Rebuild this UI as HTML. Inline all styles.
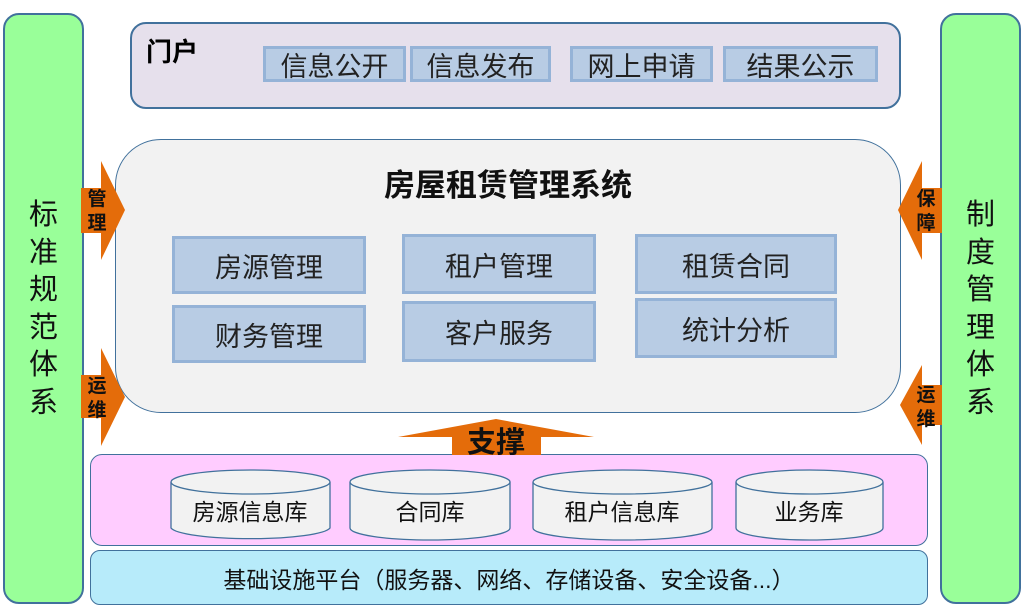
<!DOCTYPE html>
<html><head><meta charset="utf-8"><style>
body{margin:0;width:1024px;height:610px;background:#fff;position:relative;overflow:hidden;font-family:"Liberation Sans","Noto Sans CJK SC",sans-serif}
div{position:absolute;box-sizing:border-box}
.g{background:#99ff99;border:2px solid #41719c;border-radius:16px;}
.vt{font-size:29px;line-height:37.5px;text-align:center;color:#111}
.b{background:#b8cce4;border:3px solid #95b3d7;display:flex;align-items:center;justify-content:center;color:#222}
.pb{font-size:27px}
.m{font-size:27px}
</style></head><body>
<div style="left:3px;top:13px;width:81px;height:591px" class="g"></div>
<div class="vt" style="left:3px;top:197px;width:81px">标<br>准<br>规<br>范<br>体<br>系</div>
<div style="left:940px;top:13px;width:81px;height:591px" class="g"></div>
<div class="vt" style="left:940px;top:197px;width:81px">制<br>度<br>管<br>理<br>体<br>系</div>

<div style="left:130px;top:22px;width:771px;height:87px;background:#e6e0ec;border:2px solid #41719c;border-radius:16px"></div>
<div style="left:146px;top:32px;font-size:26px;font-weight:bold">门户</div>
<div class="b pb" style="left:263px;top:46px;width:143px;height:36px">信息公开</div>
<div class="b pb" style="left:410px;top:46px;width:141px;height:36px">信息发布</div>
<div class="b pb" style="left:570px;top:46px;width:143px;height:36px">网上申请</div>
<div class="b pb" style="left:723px;top:46px;width:155px;height:36px">结果公示</div>

<div style="left:115px;top:139px;width:786px;height:274px;background:#f2f2f2;border:1.5px solid #41719c;border-radius:46px"></div>
<div style="left:115px;top:160px;width:786px;text-align:center;font-size:31px;font-weight:bold;color:#111">房屋租赁管理系统</div>
<div class="b m" style="left:172px;top:236px;width:194px;height:58px">房源管理</div>
<div class="b m" style="left:172px;top:305px;width:194px;height:58px">财务管理</div>
<div class="b m" style="left:402px;top:234px;width:194px;height:60px">租户管理</div>
<div class="b m" style="left:402px;top:301px;width:194px;height:61px">客户服务</div>
<div class="b m" style="left:635px;top:234px;width:202px;height:60px">租赁合同</div>
<div class="b m" style="left:635px;top:298px;width:202px;height:60px">统计分析</div>

<div style="left:90px;top:454px;width:838px;height:92px;background:#ffccff;border:1.5px solid #41719c;border-radius:12px"></div>
<div style="left:90px;top:550px;width:838px;height:55px;background:#b7ebfa;border:1.5px solid #41719c;border-radius:10px;display:flex;align-items:center;justify-content:center;font-size:23px;color:#111">基础设施平台（服务器、网络、存储设备、安全设备...）</div>

<svg width="1024" height="610" style="position:absolute;left:0;top:0" font-family="Liberation Sans,Noto Sans CJK SC,sans-serif">
<g fill="#e46c0a">
<polygon points="81,188 101,188 101,161 125,210 101,260 101,233 81,233"/>
<polygon points="81,375 101,375 101,348 125,397 101,446 101,418 81,418"/>
<polygon points="942,188 922,188 922,161 898,210 922,260 922,233 942,233"/>
<polygon points="942,385 922,385 922,365 900,405 922,445 922,425 942,425"/>
<polygon points="452,455 452,437 398,437 496,419 594,437 541,437 541,455"/>
</g>
<g font-weight="bold" font-size="19" fill="#111" text-anchor="middle">
<text x="97" y="205">管</text><text x="97" y="229">理</text>
<text x="97" y="392">运</text><text x="97" y="416">维</text>
<text x="926" y="205">保</text><text x="926" y="229">障</text>
<text x="926" y="401">运</text><text x="926" y="425">维</text>
<text x="496" y="452" font-size="29">支撑</text>
</g>
<g fill="#f2f2f2" stroke="#41719c" stroke-width="1.3">
<path d="M171,482 V528 A80,12 0 0 0 330,528 V482"/><ellipse cx="250.5" cy="482" rx="79.5" ry="12"/>
<path d="M350,482 V528 A80,12 0 0 0 510,528 V482"/><ellipse cx="430" cy="482" rx="80" ry="12"/>
<path d="M533,482 V528 A89.5,12 0 0 0 712,528 V482"/><ellipse cx="622.5" cy="482" rx="89.5" ry="12"/>
<path d="M736,482 V528 A73.5,12 0 0 0 883,528 V482"/><ellipse cx="809.5" cy="482" rx="73.5" ry="12"/>
</g>
<g font-size="23" fill="#111" text-anchor="middle">
<text x="250" y="520">房源信息库</text><text x="430" y="520">合同库</text>
<text x="622" y="520">租户信息库</text><text x="809" y="520">业务库</text>
</g>
</svg>
</body></html>
